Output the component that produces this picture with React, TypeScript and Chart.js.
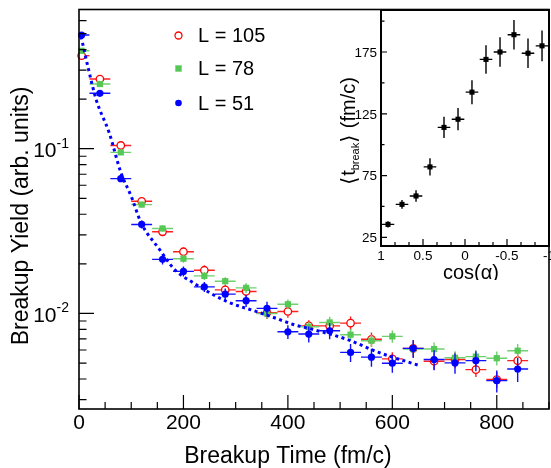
import React, { useEffect, useRef } from "react";
import { Chart, registerables } from "chart.js";

Chart.register(...registerables);

const FONT = '"Liberation Sans", Arial, Helvetica, sans-serif';

// ---------------- main plot data ----------------
const breakupTime = [5, 40, 80, 120, 160, 200, 240, 280, 320, 360, 400, 440, 480, 520, 560, 600, 640, 680, 720, 760, 800, 840];
const timeErrLow = [5, 20, 20, 20, 20, 20, 20, 20, 20, 20, 20, 20, 20, 20, 20, 20, 20, 20, 20, 20, 20, 20];
const timeErrHigh = [15, 20, 20, 20, 20, 20, 20, 20, 20, 20, 20, 20, 20, 20, 20, 20, 20, 20, 20, 20, 20, 20];

const yieldL105 = [0.367, 0.265, 0.1047, 0.048, 0.0313, 0.0237, 0.0183, 0.0139, 0.0136, 0.0101, 0.01028, 0.0084, 0.0084, 0.00873, 0.00697, 0.0053, 0.00614, 0.00513, 0.00525, 0.00456, 0.00397, 0.00517];
const errL105 = [0.0077, 0.0074, 0.0044, 0.002, 0.00174, 0.00132, 0.00127, 0.00097, 0.00095, 0.00084, 0.00086, 0.0007, 0.0007, 0.00085, 0.00068, 0.00052, 0.00068, 0.00057, 0.00058, 0.00044, 0.00044, 0.00057];

const yieldL78 = [0.393, 0.247, 0.095, 0.0458, 0.0328, 0.0215, 0.0169, 0.0157, 0.0143, 0.01, 0.01138, 0.0083, 0.00882, 0.00743, 0.00683, 0.00726, 0.00608, 0.00608, 0.00538, 0.00547, 0.00535, 0.00594];
const errL78 = [0.0082, 0.0069, 0.0033, 0.0019, 0.00137, 0.0012, 0.00094, 0.00087, 0.00099, 0.0007, 0.00079, 0.00058, 0.00074, 0.00062, 0.00057, 0.00061, 0.00051, 0.00059, 0.00052, 0.00053, 0.00052, 0.00058];

const yieldL51 = [0.49, 0.217, 0.0658, 0.0347, 0.0213, 0.018, 0.0145, 0.0131, 0.01195, 0.01074, 0.00774, 0.0075, 0.00785, 0.0058, 0.00543, 0.00499, 0.00614, 0.00525, 0.00501, 0.00517, 0.00391, 0.0046];
const errL51 = [0.0102, 0.006, 0.00274, 0.00193, 0.00148, 0.00125, 0.00101, 0.00109, 0.001, 0.00105, 0.00075, 0.00083, 0.00087, 0.00073, 0.00068, 0.00062, 0.00077, 0.00073, 0.0007, 0.00072, 0.0006, 0.00077];

const fitTime = [4, 17, 33, 58, 80, 100, 119, 154, 183, 218, 281, 345, 383, 409, 447, 511, 574, 654];
const fitYield = [0.48, 0.315, 0.198, 0.1245, 0.072, 0.0514, 0.0355, 0.0245, 0.0185, 0.0154, 0.0119, 0.01014, 0.0092, 0.0086, 0.008, 0.007, 0.0058, 0.0048];

const legendLabels = ["L = 105", "L = 78", "L = 51"];

const X_MIN = 0;
const X_MAX = 900;
const Y_MIN = 0.00263;
const Y_MAX = 0.7;

const xTickValues = [0, 200, 400, 600, 800];
const xTickLabels = ["0", "200", "400", "600", "800"];
const xMinorStep = 50;
const yTickValues = [0.1, 0.01];
const yTickBase = "10";
const yTickExponents = ["-1", "-2"];

// ---------------- inset data ----------------
const cosAlpha = [0.917, 0.75, 0.583, 0.417, 0.25, 0.083, -0.083, -0.25, -0.417, -0.583, -0.75, -0.917];
const cosErr = [0.075, 0.075, 0.075, 0.075, 0.075, 0.075, 0.075, 0.075, 0.075, 0.075, 0.075, 0.075];
const tBreak = [35.5, 51.7, 58.5, 82, 114, 120.6, 142.5, 169, 175, 189, 174, 180];
const tBreakErr = [2.5, 3.5, 4.7, 7, 8.6, 9, 9.7, 11.5, 12, 12, 12, 12.4];

const INSET_X_MIN = -1;
const INSET_X_MAX = 1;
const INSET_Y_MIN = 18;
const INSET_Y_MAX = 209;
const insetXTickValues = [1, 0.5, 0, -0.5, -1];
const insetXTickLabels = ["1", "0.5", "0", "-0.5", "-1"];
const insetXMinor = [0.8333, 0.6667, 0.3333, 0.1667, -0.1667, -0.3333, -0.6667, -0.8333];
const insetYTickValues = [25, 75, 125, 175];
const insetYTickLabels = ["25", "75", "125", "175"];
const insetYMinor = [50, 100, 150, 200];

// ---------------- plugins ----------------
const errorBarPlugin = {
  id: "errorBars",
  beforeDatasetDraw(chart: any, args: any) {
    const ds: any = chart.data.datasets[args.index];
    if (!ds.errY) return;
    const { ctx } = chart;
    const xs = chart.scales.x;
    const ys = chart.scales.y;
    const gap = ds.errGap || 0;
    ctx.save();
    ctx.strokeStyle = ds.errColor;
    ctx.lineWidth = ds.errWidth || 1.3;
    ds.data.forEach((p: any, i: number) => {
      const px = xs.getPixelForValue(p.x);
      const py = ys.getPixelForValue(p.y);
      const xa = xs.getPixelForValue(p.x - ds.errXLo[i]);
      const xb = xs.getPixelForValue(p.x + ds.errXHi[i]);
      const ya = ys.getPixelForValue(p.y - ds.errY[i]);
      const yb = ys.getPixelForValue(p.y + ds.errY[i]);
      const xl = Math.min(xa, xb), xr = Math.max(xa, xb);
      const yt = Math.min(ya, yb), ybm = Math.max(ya, yb);
      ctx.beginPath();
      if (px - gap > xl) { ctx.moveTo(xl, py); ctx.lineTo(px - gap, py); }
      if (xr > px + gap) { ctx.moveTo(px + gap, py); ctx.lineTo(xr, py); }
      if (py - gap > yt) { ctx.moveTo(px, yt); ctx.lineTo(px, py - gap); }
      if (ybm > py + gap) { ctx.moveTo(px, py + gap); ctx.lineTo(px, ybm); }
      ctx.stroke();
    });
    ctx.restore();
  },
};

const mainDecorPlugin = {
  id: "mainDecor",
  afterDraw(chart: any) {
    const { ctx, chartArea } = chart;
    const { left, right, top, bottom } = chartArea;
    const xs = chart.scales.x;
    const ys = chart.scales.y;
    ctx.save();
    // frame
    ctx.strokeStyle = "#000";
    ctx.lineWidth = 1.6;
    ctx.strokeRect(left, top, right - left, bottom - top);
    // x ticks
    ctx.lineWidth = 1.2;
    ctx.beginPath();
    for (let v = X_MIN; v <= X_MAX; v += xMinorStep) {
      const X = xs.getPixelForValue(v);
      const major = xTickValues.includes(v);
      ctx.moveTo(X, bottom);
      ctx.lineTo(X, bottom - (major ? 14 : 7));
    }
    // y ticks (log)
    for (let e = -3; e <= 0; e++) {
      for (let m = 1; m <= 9; m++) {
        const v = m * Math.pow(10, e);
        if (v < Y_MIN || v > Y_MAX) continue;
        const Y = ys.getPixelForValue(v);
        ctx.moveTo(left, Y);
        ctx.lineTo(left + (m === 1 ? 15 : 7.5), Y);
      }
    }
    ctx.stroke();

    ctx.fillStyle = "#000";
    // x tick labels
    ctx.font = `21px ${FONT}`;
    ctx.textAlign = "center";
    ctx.textBaseline = "middle";
    xTickValues.forEach((v, i) => {
      ctx.fillText(xTickLabels[i], xs.getPixelForValue(v), bottom + 14);
    });
    // y tick labels (10^n)
    yTickValues.forEach((v, i) => {
      const Y = ys.getPixelForValue(v);
      ctx.font = `14px ${FONT}`;
      ctx.textAlign = "right";
      ctx.textBaseline = "middle";
      const expW = ctx.measureText(yTickExponents[i]).width;
      const expRight = left - 10;
      ctx.fillText(yTickExponents[i], expRight, Y - 5);
      ctx.font = `21px ${FONT}`;
      ctx.fillText(yTickBase, expRight - expW, Y + 2.5);
    });
    // axis titles
    ctx.font = `23px ${FONT}`;
    ctx.textAlign = "center";
    ctx.textBaseline = "alphabetic";
    ctx.fillText("Breakup Time (fm/c)", 288, 463);
    ctx.save();
    ctx.translate(28, 216);
    ctx.rotate(-Math.PI / 2);
    ctx.fillText("Breakup Yield (arb. units)", 0, 0);
    ctx.restore();

    // legend
    const lx = 178.5;
    const ly = [35.5, 68.5, 103];
    ctx.strokeStyle = "#ff0000";
    ctx.lineWidth = 1.3;
    ctx.beginPath();
    ctx.arc(lx, ly[0], 3.5, 0, Math.PI * 2);
    ctx.stroke();
    ctx.fillStyle = "#55c855";
    ctx.fillRect(lx - 3.2, ly[1] - 3.2, 6.4, 6.4);
    ctx.fillStyle = "#0000ff";
    ctx.beginPath();
    ctx.arc(lx, ly[2], 3.3, 0, Math.PI * 2);
    ctx.fill();
    ctx.fillStyle = "#000";
    ctx.font = `20px ${FONT}`;
    ctx.textAlign = "left";
    ctx.textBaseline = "middle";
    legendLabels.forEach((t, i) => ctx.fillText(t, 198, ly[i] + 1));
    ctx.restore();
  },
};

const insetDecorPlugin = {
  id: "insetDecor",
  beforeDatasetsDraw(chart: any) {
    const { ctx, chartArea } = chart;
    ctx.save();
    ctx.fillStyle = "#fff";
    ctx.fillRect(chartArea.left, chartArea.top, chartArea.right - chartArea.left, chartArea.bottom - chartArea.top);
    ctx.restore();
  },
  afterDraw(chart: any) {
    const { ctx, chartArea } = chart;
    const { left, right, top, bottom } = chartArea;
    const xs = chart.scales.x;
    const ys = chart.scales.y;
    ctx.save();
    ctx.strokeStyle = "#000";
    ctx.lineWidth = 2;
    ctx.strokeRect(left, top, right - left, bottom - top);
    ctx.lineWidth = 1.2;
    ctx.beginPath();
    insetXTickValues.forEach((v) => {
      const X = xs.getPixelForValue(v);
      ctx.moveTo(X, bottom);
      ctx.lineTo(X, bottom - 7);
    });
    insetXMinor.forEach((v) => {
      const X = xs.getPixelForValue(v);
      ctx.moveTo(X, bottom);
      ctx.lineTo(X, bottom - 4);
    });
    insetYTickValues.forEach((v) => {
      const Y = ys.getPixelForValue(v);
      ctx.moveTo(left, Y);
      ctx.lineTo(left + 6, Y);
    });
    insetYMinor.forEach((v) => {
      const Y = ys.getPixelForValue(v);
      ctx.moveTo(left, Y);
      ctx.lineTo(left + 3.5, Y);
    });
    ctx.stroke();

    ctx.fillStyle = "#000";
    ctx.font = `13.5px ${FONT}`;
    ctx.textAlign = "center";
    ctx.textBaseline = "middle";
    insetXTickValues.forEach((v, i) => {
      ctx.fillText(insetXTickLabels[i], xs.getPixelForValue(v), bottom + 10);
    });
    ctx.textAlign = "right";
    insetYTickValues.forEach((v, i) => {
      ctx.fillText(insetYTickLabels[i], left - 4, ys.getPixelForValue(v) + 1);
    });
    // x title
    ctx.font = `20px ${FONT}`;
    ctx.textAlign = "center";
    ctx.textBaseline = "alphabetic";
    ctx.fillText("cos(\u03b1)", 131, 279);
    // y title with subscript
    const pieces = [
      { t: "\u27e8", f: 22, dy: 1 },
      { t: "t", f: 20, dy: 0 },
      { t: "break", f: 11, dy: 4 },
      { t: "\u27e9", f: 22, dy: 1 },
      { t: " (fm/c)", f: 20, dy: 0 },
    ];
    let total = 0;
    const widths = pieces.map((p) => {
      ctx.font = `${p.f}px ${FONT}`;
      const w = ctx.measureText(p.t).width;
      total += w;
      return w;
    });
    ctx.save();
    ctx.translate(14.5, 131);
    ctx.rotate(-Math.PI / 2);
    ctx.textAlign = "left";
    let cx = -total / 2;
    pieces.forEach((p, i) => {
      ctx.font = `${p.f}px ${FONT}`;
      ctx.fillText(p.t, cx, p.dy);
      cx += widths[i];
    });
    ctx.restore();
    ctx.restore();
  },
};

export default function App() {
  const mainRef = useRef<HTMLCanvasElement>(null);
  const insetRef = useRef<HTMLCanvasElement>(null);

  useEffect(() => {
    const pts = (ys: number[]) => breakupTime.map((x, i) => ({ x, y: ys[i] }));
    const main = new Chart(mainRef.current as HTMLCanvasElement, {
      type: "scatter",
      data: {
        datasets: [
          {
            label: "fit",
            data: fitTime.map((x, i) => ({ x, y: fitYield[i] })),
            showLine: true,
            borderColor: "#0000ff",
            borderWidth: 3,
            borderDash: [3, 3.5],
            borderCapStyle: "butt",
            cubicInterpolationMode: "monotone",
            pointRadius: 0,
            order: 0,
            clip: false,
          } as any,
          {
            label: legendLabels[2],
            data: pts(yieldL51),
            pointStyle: "circle",
            pointRadius: 3.6,
            pointBackgroundColor: "#0000ff",
            pointBorderWidth: 0,
            errY: errL51,
            errXLo: timeErrLow,
            errXHi: timeErrHigh,
            errColor: "#1010ff",
            errWidth: 1.4,
            order: 1,
            clip: false,
          } as any,
          {
            label: legendLabels[1],
            data: pts(yieldL78),
            pointStyle: "rect",
            pointRadius: 4.4,
            pointBackgroundColor: "#55c855",
            pointBorderWidth: 0,
            errY: errL78,
            errXLo: timeErrLow,
            errXHi: timeErrHigh,
            errColor: "#70d070",
            errWidth: 1.4,
            order: 2,
            clip: false,
          } as any,
          {
            label: legendLabels[0],
            data: pts(yieldL105),
            pointStyle: "circle",
            pointRadius: 3.7,
            pointBackgroundColor: "rgba(255,255,255,0)",
            pointBorderColor: "#ff0000",
            pointBorderWidth: 1.3,
            errY: errL105,
            errXLo: timeErrLow,
            errXHi: timeErrHigh,
            errColor: "#ff2020",
            errWidth: 1.4,
            errGap: 3.7,
            order: 3,
            clip: false,
          } as any,
        ],
      },
      options: {
        responsive: false,
        animation: false,
        events: [],
        layout: { padding: { left: 79, top: 9.5, right: 2, bottom: 59 }, autoPadding: false } as any,
        plugins: { legend: { display: false }, tooltip: { enabled: false } },
        scales: {
          x: { type: "linear", min: X_MIN, max: X_MAX, display: false },
          y: { type: "logarithmic", min: Y_MIN, max: Y_MAX, display: false },
        },
      },
      plugins: [errorBarPlugin, mainDecorPlugin],
    });

    const inset = new Chart(insetRef.current as HTMLCanvasElement, {
      type: "scatter",
      data: {
        datasets: [
          {
            label: "tbreak",
            data: cosAlpha.map((x, i) => ({ x, y: tBreak[i] })),
            pointStyle: "rect",
            pointRadius: 3.6,
            pointBackgroundColor: "#000",
            pointBorderWidth: 0,
            errY: tBreakErr,
            errXLo: cosErr,
            errXHi: cosErr,
            errColor: "#000",
            errWidth: 1.4,
            clip: false,
          } as any,
        ],
      },
      options: {
        responsive: false,
        animation: false,
        events: [],
        layout: { padding: { left: 41, top: 10, right: 2, bottom: 34 }, autoPadding: false } as any,
        plugins: { legend: { display: false }, tooltip: { enabled: false } },
        scales: {
          x: { type: "linear", min: INSET_X_MIN, max: INSET_X_MAX, reverse: true, display: false },
          y: { type: "linear", min: INSET_Y_MIN, max: INSET_Y_MAX, display: false },
        },
      },
      plugins: [errorBarPlugin, insetDecorPlugin],
    });

    return () => {
      main.destroy();
      inset.destroy();
    };
  }, []);

  return (
    <div style={{ position: "fixed", left: 0, top: 0, width: 551, height: 468, background: "#fff" }}>
      <canvas
        ref={mainRef}
        width={551}
        height={468}
        style={{ position: "absolute", left: 0, top: 0, width: 551, height: 468 }}
      />
      <canvas
        ref={insetRef}
        width={211}
        height={280}
        style={{ position: "absolute", left: 340, top: 0, width: 211, height: 280 }}
      />
    </div>
  );
}
